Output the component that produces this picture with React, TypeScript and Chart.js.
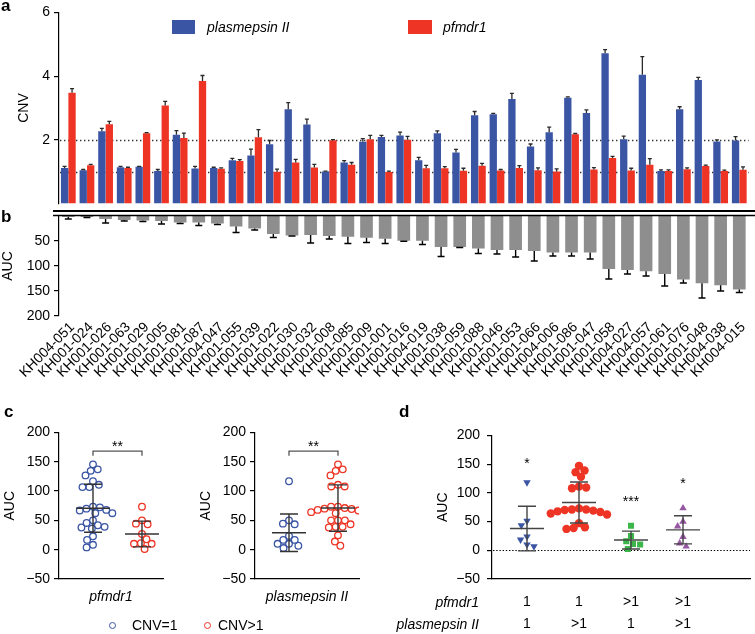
import React, { useEffect, useRef } from 'react';
import { Chart, registerables } from 'chart.js';

Chart.register(...registerables);

const FONT = "'Liberation Sans', Arial, Helvetica, sans-serif";
Chart.defaults.font.family = FONT;
Chart.defaults.font.size = 14;
Chart.defaults.color = '#000';

const BLUE = '#3b55a5';
const RED = '#ee3424';
const GREY = '#8e8e8e';
const GREEN = '#3cb54a';
const PURPLE = '#9657a3';

// ---------- Panel a / b ----------
const isolates = ['KH004-051', 'KH001-024', 'KH001-026', 'KH001-063', 'KH001-029', 'KH001-005', 'KH001-081', 'KH001-087', 'KH004-047', 'KH001-055', 'KH001-039', 'KH001-022', 'KH001-030', 'KH001-032', 'KH001-008', 'KH001-085', 'KH001-009', 'KH001-001', 'KH001-016', 'KH004-019', 'KH001-038', 'KH001-059', 'KH001-088', 'KH001-046', 'KH001-053', 'KH001-066', 'KH004-006', 'KH001-086', 'KH001-047', 'KH001-058', 'KH004-027', 'KH004-057', 'KH001-061', 'KH001-076', 'KH001-048', 'KH004-038', 'KH004-015'];

const plasmepsinCNV = [1.12, 1.05, 2.27, 1.14, 1.16, 1.02, 2.16, 1.10, 1.12, 1.36, 1.51, 1.86, 2.96, 2.48, 1.01, 1.29, 1.94, 2.09, 2.14, 1.36, 2.21, 1.60, 2.77, 2.80, 3.28, 1.79, 2.24, 3.32, 2.84, 4.72, 2.02, 4.04, 1.02, 2.96, 3.88, 1.95, 1.98];
const plasmepsinErr = [0.05, 0.02, 0.09, 0.03, 0.01, 0.05, 0.13, 0.07, 0.02, 0.06, 0.2, 0.12, 0.21, 0.17, 0.01, 0.06, 0.1, 0.05, 0.1, 0.09, 0.07, 0.1, 0.12, 0.03, 0.18, 0.08, 0.16, 0.03, 0.1, 0.11, 0.1, 0.57, 0.04, 0.08, 0.08, 0.05, 0.12];
const pfmdr1CNV = [3.48, 1.20, 2.49, 1.12, 2.21, 3.08, 2.06, 3.85, 1.09, 1.34, 2.08, 1.00, 1.29, 1.13, 1.99, 1.22, 2.02, 0.99, 2.00, 1.11, 1.11, 1.03, 1.19, 1.04, 1.12, 1.05, 1.01, 2.18, 1.07, 1.43, 1.04, 1.22, 1.02, 1.08, 1.18, 1.02, 1.06];
const pfmdr1Err = [0.13, 0.03, 0.09, 0.02, 0.02, 0.13, 0.15, 0.17, 0.03, 0.04, 0.24, 0.08, 0.1, 0.1, 0.02, 0.07, 0.12, 0.03, 0.11, 0.09, 0.05, 0.08, 0.07, 0.03, 0.07, 0.07, 0.08, 0.02, 0.06, 0.05, 0.07, 0.19, 0.04, 0.04, 0.03, 0.03, 0.09];
const cnvTicks = [2, 4, 6];
const cnvRefLines = [1, 2];

const aucMean = [2, 2, 6, 8, 9, 10, 13, 13, 15, 21, 25, 36, 39, 38, 40, 41.5, 43.5, 45.5, 49.5, 49.5, 62, 62, 65, 68, 68, 70, 73, 73, 73, 106, 108, 110.5, 116, 127, 134.5, 138.5, 147];
const aucErr = [4, 1, 8, 2, 2, 6, 2, 6, 2, 12, 3, 7, 1, 16, 6, 13.5, 9.5, 9.5, 1, 7.5, 19, 1, 10, 8, 14, 20, 7, 7, 13, 20, 8, 9.5, 24, 7, 29.5, 11.5, 6];
const aucTicksB = [50, 100, 150, 200];

// ---------- Panel c ----------
const aucTicksCD = [-50, 0, 50, 100, 150, 200];
const cPfmdr1Cnv1 = [145.5, 137, 134.4, 126.7, 116.7, 110.6, 106.7, 106.7, 73.3, 72.2, 70, 67.8, 66.7, 62.2, 62.2, 50, 45.6, 41.7, 38.9, 37.8, 36, 22.8, 16.7, 8.3, 3.9];
const cPfmdr1CnvGt1 = [73.3, 50, 44.4, 43.3, 26.7, 17.8, 11, 10, 10, 1.1];
const cPfmdr1Mean = [70.6, 26.7];
const cPfmdr1Sd = [41, 22];
const cPlasmCnv1 = [116.7, 50, 44.4, 43.3, 23.3, 16.7, 16.7, 10, 10, 6.7, 2.8];
const cPlasmCnvGt1 = [145.5, 137, 134.4, 126.7, 110.6, 107.8, 107.8, 73.3, 73.3, 71, 70, 69.4, 67.8, 66.7, 64, 62.2, 50, 50, 50, 43.3, 38.9, 38.9, 37.8, 24.4, 13.9, 6.7];
const cPlasmMean = [28.9, 71];
const cPlasmSd = [32, 39.5];
const cSig = '**';
const cBracketY = [168, 160, 182]; // bracket line, tick ends, label

// ---------- Panel d ----------
const dPfmdr1 = ['1', '1', '>1', '>1'];
const dPlasmepsin = ['1', '>1', '1', '>1'];
const dG1 = [118.3, 51, 43.3, 23.9, 18.3, 10, 6.7];
const dG2 = [147, 139, 136, 127.8, 111, 109.4, 108, 73, 71, 71, 70, 69, 67.8, 66.7, 64, 62.2, 47.2, 40, 38.9, 37.2];
const dG3 = [42.8, 25, 15.6, 11, 10, 2.2];
const dG4 = [73.3, 50, 41.7, 23.3, 12.2, 6.7];
const dMeans = [37.8, 83.3, 17.8, 35.6];
const dSds = [38.9, 35.7, 15.5, 24.5];
const dStars = ['*', '', '***', '*'];
const dStarY = [158, 0, 91.7, 122];

// ---------- plugins ----------
const errorBarPlugin: any = {
  id: 'errorBars',
  afterDatasetsDraw(chart: any, _a: any, opts: any) {
    const ctx = chart.ctx;
    chart.data.datasets.forEach((ds: any, di: number) => {
      if (!ds.errors) return;
      const meta = chart.getDatasetMeta(di);
      const ys = chart.scales[meta.yAxisID];
      ctx.save();
      ctx.strokeStyle = opts.color;
      ctx.lineWidth = opts.width;
      meta.data.forEach((el: any, i: number) => {
        const v = ds.data[i];
        const e = ds.errors[i];
        const y1 = ys.getPixelForValue(v + e);
        ctx.beginPath();
        ctx.moveTo(el.x, el.y);
        ctx.lineTo(el.x, y1);
        ctx.moveTo(el.x - opts.cap, y1);
        ctx.lineTo(el.x + opts.cap, y1);
        ctx.stroke();
      });
      ctx.restore();
    });
  },
};

const refLinePlugin: any = {
  id: 'refLines',
  beforeDatasetsDraw(chart: any, _a: any, opts: any) {
    if (!opts || !opts.values) return;
    const { ctx, chartArea } = chart;
    const ys = chart.scales.y;
    ctx.save();
    ctx.strokeStyle = opts.color;
    ctx.lineWidth = opts.width;
    ctx.setLineDash(opts.dash);
    opts.values.forEach((v: number) => {
      const y = Math.round(ys.getPixelForValue(v)) + 0.5;
      ctx.beginPath();
      ctx.moveTo(chartArea.left + 1, y);
      ctx.lineTo(chartArea.right, y);
      ctx.stroke();
    });
    ctx.restore();
  },
};

const doubleRulePlugin: any = {
  id: 'doubleRule',
  afterDraw(chart: any, _a: any, opts: any) {
    if (!opts || !opts.enabled) return;
    const { ctx, chartArea } = chart;
    ctx.save();
    ctx.strokeStyle = '#000';
    ctx.lineWidth = 2.2;
    ctx.beginPath();
    ctx.moveTo(opts.left, chartArea.top - 5);
    ctx.lineTo(chart.width, chartArea.top - 5);
    ctx.stroke();
    ctx.lineWidth = 1.3;
    ctx.beginPath();
    ctx.moveTo(opts.left, chartArea.top - 0.5);
    ctx.lineTo(chart.width, chartArea.top - 0.5);
    ctx.stroke();
    ctx.restore();
  },
};

const meanSdPlugin: any = {
  id: 'meanSd',
  afterDatasetsDraw(chart: any, _a: any, opts: any) {
    if (!opts || !opts.means) return;
    const { ctx } = chart;
    const xs = chart.scales.x;
    const ys = chart.scales.y;
    ctx.save();
    ctx.strokeStyle = opts.color;
    ctx.lineWidth = opts.width;
    opts.means.forEach((m: number, i: number) => {
      const x = xs.getPixelForValue(i + 1);
      const ym = ys.getPixelForValue(m);
      const yt = ys.getPixelForValue(m + opts.sds[i]);
      const yb = ys.getPixelForValue(m - opts.sds[i]);
      ctx.beginPath();
      ctx.moveTo(x - opts.meanHalf, ym);
      ctx.lineTo(x + opts.meanHalf, ym);
      ctx.moveTo(x, yt);
      ctx.lineTo(x, yb);
      ctx.moveTo(x - opts.capHalf, yt);
      ctx.lineTo(x + opts.capHalf, yt);
      ctx.moveTo(x - opts.capHalf, yb);
      ctx.lineTo(x + opts.capHalf, yb);
      ctx.stroke();
    });
    ctx.restore();
  },
};

const annotPlugin: any = {
  id: 'annot',
  afterDatasetsDraw(chart: any, _a: any, opts: any) {
    if (!opts) return;
    const { ctx } = chart;
    const xs = chart.scales.x;
    const ys = chart.scales.y;
    ctx.save();
    ctx.font = `14px ${FONT}`;
    ctx.fillStyle = '#000';
    ctx.textAlign = 'center';
    ctx.textBaseline = 'alphabetic';
    if (opts.bracket) {
      const b = opts.bracket;
      const x1 = xs.getPixelForValue(1);
      const x2 = xs.getPixelForValue(2);
      const y = ys.getPixelForValue(b.y);
      const yt = ys.getPixelForValue(b.tick);
      ctx.strokeStyle = '#555';
      ctx.lineWidth = 1.3;
      ctx.beginPath();
      ctx.moveTo(x1, yt);
      ctx.lineTo(x1, y);
      ctx.lineTo(x2, y);
      ctx.lineTo(x2, yt);
      ctx.stroke();
      ctx.fillText(b.text, (x1 + x2) / 2, ys.getPixelForValue(b.label) + 8);
    }
    if (opts.stars) {
      opts.stars.forEach((s: string, i: number) => {
        if (!s) return;
        ctx.fillText(s, xs.getPixelForValue(i + 1), ys.getPixelForValue(opts.starY[i]) + 8);
      });
    }
    ctx.restore();
  },
};

// ---------- helpers ----------
function yScale(cfg: any) {
  return {
    type: 'linear',
    min: cfg.min,
    max: cfg.max,
    reverse: !!cfg.reverse,
    afterBuildTicks: (s: any) => { s.ticks = cfg.ticks.map((v: number) => ({ value: v })); },
    afterFit: (s: any) => { s.width = cfg.width; },
    border: { display: true, color: '#000', width: 1.2 },
    grid: { display: true, drawOnChartArea: false, drawTicks: true, tickLength: 5, color: '#000', lineWidth: 1.2 },
    ticks: {
      color: '#000',
      font: { family: FONT, size: 14 },
      padding: cfg.pad,
      callback: (v: any) => (v < 0 ? '\u2212' + Math.abs(v) : String(v)),
    },
    title: { display: true, text: cfg.title, color: '#000', font: { family: FONT, size: 14 }, padding: { top: cfg.titlePad || 0, bottom: 0 } },
  };
}

function swarmOffsets(pys: number[], diam: number): number[] {
  const order = pys.map((_, i) => i).sort((a, b) => pys[a] - pys[b]);
  const placed: { x: number; y: number }[] = [];
  const out = new Array(pys.length).fill(0);
  let flip = 1;
  for (const i of order) {
    const y = pys[i];
    const iv: [number, number][] = [];
    for (const p of placed) {
      const dy = Math.abs(p.y - y);
      if (dy < diam) {
        const w = Math.sqrt(diam * diam - dy * dy);
        iv.push([p.x - w, p.x + w]);
      }
    }
    const cands = [0];
    iv.forEach(([a, b]) => cands.push(a, b));
    cands.sort((a, b) => Math.abs(a) - Math.abs(b) || (a - b) * flip);
    let best = 0;
    for (const c of cands) {
      if (iv.every(([a, b]) => c <= a + 1e-6 || c >= b - 1e-6)) { best = c; break; }
    }
    flip = -flip;
    placed.push({ x: best, y });
    out[i] = best;
  }
  return out;
}

function applySwarm(chart: any, diam: number) {
  const xs = chart.scales.x;
  const ys = chart.scales.y;
  chart.data.datasets.forEach((ds: any) => {
    const pys = ds.values.map((v: number) => ys.getPixelForValue(v));
    const offs = swarmOffsets(pys, diam);
    const cx = xs.getPixelForValue(ds.center);
    ds.data = ds.values.map((v: number, i: number) => ({ x: xs.getValueForPixel(cx + offs[i]), y: v }));
  });
  chart.update('none');
}

function pts(values: number[], center: number) {
  return values.map((v) => ({ x: center, y: v }));
}

function configA(): any {
  return {
    type: 'bar',
    data: {
      labels: isolates,
      datasets: [
        { label: 'plasmepsin II', data: plasmepsinCNV, errors: plasmepsinErr, backgroundColor: BLUE, categoryPercentage: 0.8, barPercentage: 0.98 },
        { label: 'pfmdr1', data: pfmdr1CNV, errors: pfmdr1Err, backgroundColor: RED, categoryPercentage: 0.8, barPercentage: 0.98 },
      ],
    },
    options: {
      responsive: false,
      animation: false,
      layout: { padding: { left: 15.6, top: 10, right: 6.4, bottom: 5 } },
      plugins: {
        legend: { display: false },
        tooltip: { enabled: false },
        refLines: { values: cnvRefLines, color: '#333', width: 1.3, dash: [1.4, 2.6] },
        errorBars: { color: '#2a2a2a', width: 1.3, cap: 2 },
      },
      scales: {
        x: { display: false },
        y: yScale({ min: 0, max: 6, ticks: cnvTicks, width: 43.4, title: 'CNV', pad: 4 }),
      },
    },
    plugins: [refLinePlugin, errorBarPlugin],
  };
}

function configB(): any {
  return {
    type: 'bar',
    data: {
      labels: isolates,
      datasets: [{ label: 'AUC', data: aucMean, errors: aucErr, backgroundColor: GREY, categoryPercentage: 0.68, barPercentage: 1 }],
    },
    options: {
      responsive: false,
      animation: false,
      layout: { padding: { left: 0, top: 16, right: 6.4, bottom: 0 } },
      plugins: {
        legend: { display: false },
        tooltip: { enabled: false },
        errorBars: { color: '#000', width: 1.4, cap: 3.5 },
        doubleRule: { enabled: true, left: 53 },
      },
      scales: {
        x: {
          grid: { display: false, drawTicks: false },
          border: { display: false },
          ticks: { autoSkip: false, minRotation: 45, maxRotation: 45, padding: 3, labelOffset: 4, color: '#000', font: { family: FONT, size: 14 } },
          afterFit: (s: any) => { s.height = 84; },
        },
        y: yScale({ min: 0, max: 200, reverse: true, ticks: aucTicksB, width: 59, title: 'AUC', pad: 4 }),
      },
    },
    plugins: [errorBarPlugin, doubleRulePlugin],
  };
}

function configC(values1: number[], values2: number[], means: number[], sds: number[], title: string): any {
  return {
    type: 'scatter',
    data: {
      datasets: [
        { label: 'CNV=1', data: pts(values1, 1), values: values1, center: 1, pointStyle: 'circle', pointRadius: 3.3, borderColor: BLUE, borderWidth: 1.3, backgroundColor: 'rgba(0,0,0,0)' },
        { label: 'CNV>1', data: pts(values2, 2), values: values2, center: 2, pointStyle: 'circle', pointRadius: 3.3, borderColor: RED, borderWidth: 1.3, backgroundColor: 'rgba(0,0,0,0)' },
      ],
    },
    options: {
      responsive: false,
      animation: false,
      layout: { padding: { left: 2, top: 10, right: 22, bottom: 28.6 } },
      plugins: {
        legend: { display: false },
        tooltip: { enabled: false },
        meanSd: { means, sds, color: '#333', width: 1.4, meanHalf: 17, capHalf: 9 },
        annot: { bracket: { y: cBracketY[0], tick: cBracketY[1], label: cBracketY[2], text: cSig } },
      },
      scales: {
        x: {
          type: 'linear',
          min: 0.306,
          max: 2.429,
          ticks: { display: false },
          grid: { display: true, drawOnChartArea: false, drawTicks: false },
          border: { display: true, color: '#000', width: 1.2 },
          title: { display: true, text: title, color: '#000', font: { family: FONT, size: 14, style: 'italic' }, padding: { top: 0, bottom: 0 } },
          afterFit: (s: any) => { s.height = 26.4; },
        },
        y: yScale({ min: -50, max: 200, ticks: aucTicksCD, width: 57, title: 'AUC', pad: 4 }),
      },
    },
    plugins: [meanSdPlugin, annotPlugin],
  };
}

function configD(): any {
  const mk = (label: string, values: number[], center: number, style: string, rot: number, color: string, r: number) => ({
    label, data: pts(values, center), values, center, pointStyle: style, rotation: rot, pointRadius: r, backgroundColor: color, borderColor: color, borderWidth: 0,
  });
  return {
    type: 'scatter',
    data: {
      datasets: [
        mk('1/1', dG1, 1, 'triangle', 180, BLUE, 4.3),
        mk('1/>1', dG2, 2, 'circle', 0, RED, 4.2),
        mk('>1/1', dG3, 3, 'rect', 0, GREEN, 4.3),
        mk('>1/>1', dG4, 4, 'triangle', 0, PURPLE, 4.3),
      ],
    },
    options: {
      responsive: false,
      animation: false,
      layout: { padding: { left: 54.6, top: 10, right: 5, bottom: 0 } },
      plugins: {
        legend: { display: false },
        tooltip: { enabled: false },
        refLines: { values: [0], color: '#000', width: 1.2, dash: [1.4, 1.8] },
        meanSd: { means: dMeans, sds: dSds, color: '#444', width: 1.4, meanHalf: 17, capHalf: 9 },
        annot: { stars: dStars, starY: dStarY },
      },
      scales: {
        x: {
          type: 'linear',
          min: 0.327,
          max: 5.288,
          afterBuildTicks: (s: any) => { s.ticks = dPfmdr1.map((_, i) => ({ value: i + 1 })); },
          ticks: {
            color: '#000',
            font: { family: FONT, size: 14, lineHeight: 1.52 },
            padding: 13,
            callback: (_v: any, i: number) => [dPfmdr1[i], dPlasmepsin[i]],
          },
          grid: { display: true, drawOnChartArea: false, drawTicks: false },
          border: { display: true, color: '#000', width: 1.2 },
          afterFit: (s: any) => { s.height = 55; },
        },
        y: yScale({ min: -50, max: 200, ticks: aucTicksCD, width: 57.4, title: 'AUC', pad: 7 }),
      },
    },
    plugins: [refLinePlugin, meanSdPlugin, annotPlugin],
  };
}

const abs = (left: number, top: number, extra: any = {}): any => ({
  position: 'absolute', left, top, whiteSpace: 'nowrap', fontFamily: FONT, fontSize: 14, lineHeight: '16px', color: '#000', ...extra,
});

export default function App() {
  const aRef = useRef<HTMLCanvasElement>(null);
  const bRef = useRef<HTMLCanvasElement>(null);
  const c1Ref = useRef<HTMLCanvasElement>(null);
  const c2Ref = useRef<HTMLCanvasElement>(null);
  const dRef = useRef<HTMLCanvasElement>(null);

  useEffect(() => {
    const charts: Chart[] = [];
    charts.push(new Chart(aRef.current!, configA()));
    charts.push(new Chart(bRef.current!, configB()));
    const c1 = new Chart(c1Ref.current!, configC(cPfmdr1Cnv1, cPfmdr1CnvGt1, cPfmdr1Mean, cPfmdr1Sd, 'pfmdr1'));
    const c2 = new Chart(c2Ref.current!, configC(cPlasmCnv1, cPlasmCnvGt1, cPlasmMean, cPlasmSd, 'plasmepsin II'));
    const d = new Chart(dRef.current!, configD());
    applySwarm(c1, 6.9);
    applySwarm(c2, 6.9);
    applySwarm(d, 7.2);
    charts.push(c1, c2, d);
    return () => charts.forEach((c) => c.destroy());
  }, []);

  const canvasStyle = (left: number, top: number, w: number, h: number): any => ({ position: 'absolute', left, top, width: w, height: h });
  const letter = { fontWeight: 'bold', fontSize: 17, lineHeight: '17px' };

  return (
    <div style={{ position: 'absolute', left: 0, top: 0, width: 755, height: 634, background: '#fff', overflow: 'hidden' }}>
      <canvas ref={aRef} width={755} height={216} style={canvasStyle(0, 0, 755, 216)} />
      <canvas ref={bRef} width={755} height={200} style={canvasStyle(0, 200, 755, 200)} />
      <canvas ref={c1Ref} width={185} height={214} style={canvasStyle(0, 420, 185, 214)} />
      <canvas ref={c2Ref} width={185} height={214} style={canvasStyle(196, 420, 185, 214)} />
      <canvas ref={dRef} width={375} height={214} style={canvasStyle(380, 420, 375, 214)} />

      <div style={abs(1, -3, letter)}>a</div>
      <div style={abs(1, 208, letter)}>b</div>
      <div style={abs(4, 403, letter)}>c</div>
      <div style={abs(399, 403, letter)}>d</div>

      <div style={abs(172, 20, { width: 23, height: 14, background: BLUE })} />
      <div style={abs(207, 19, { fontStyle: 'italic' })}>plasmepsin II</div>
      <div style={abs(408, 20, { width: 24, height: 14, background: RED })} />
      <div style={abs(443, 19, { fontStyle: 'italic' })}>pfmdr1</div>

      <div style={abs(108.5, 621.5, { width: 7, height: 7, border: `1.3px solid ${BLUE}`, borderRadius: '50%', boxSizing: 'border-box' })} />
      <div style={abs(132, 617)}>CNV=1</div>
      <div style={abs(203.5, 621.5, { width: 7, height: 7, border: `1.3px solid ${RED}`, borderRadius: '50%', boxSizing: 'border-box' })} />
      <div style={abs(218, 617)}>CNV&gt;1</div>

      <div style={abs(380, 594, { width: 99, textAlign: 'right', fontStyle: 'italic' })}>pfmdr1</div>
      <div style={abs(370, 616, { width: 109, textAlign: 'right', fontStyle: 'italic' })}>plasmepsin II</div>
    </div>
  );
}
